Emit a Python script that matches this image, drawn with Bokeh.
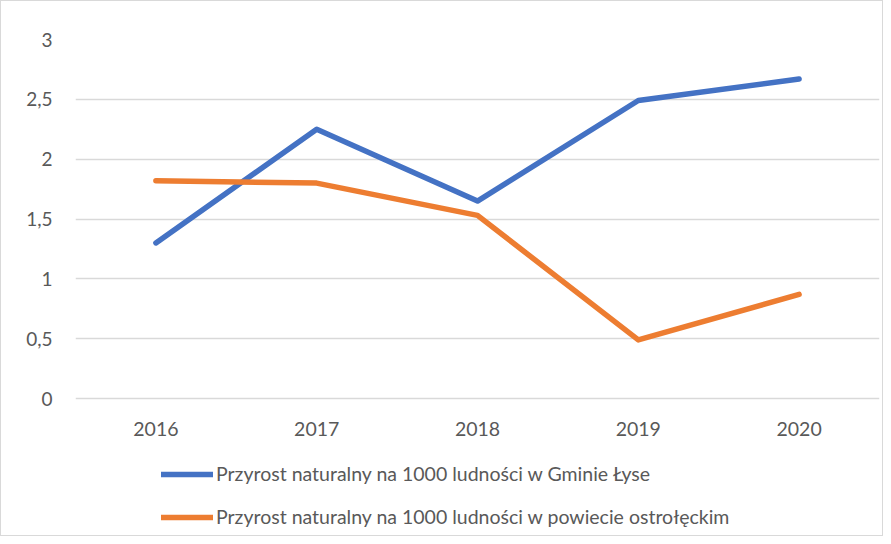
from bokeh.plotting import figure
from bokeh.models import Range1d, Legend, LegendItem, FixedTicker
from bokeh.core.properties import value
from bokeh.embed import file_html
from bokeh.resources import INLINE

years = [2016, 2017, 2018, 2019, 2020]
year_labels = ["2016", "2017", "2018", "2019", "2020"]
gmina = [1.30, 2.25, 1.65, 2.49, 2.67]
powiat = [1.82, 1.80, 1.53, 0.49, 0.87]
y_ticks = [0, 0.5, 1, 1.5, 2, 2.5, 3]
y_labels = ["0", "0,5", "1", "1,5", "2", "2,5", "3"]
series_names = ["Przyrost naturalny na 1000 ludności w Gminie Łyse",
                "Przyrost naturalny na 1000 ludności w powiecie ostrołęckim"]

FONT = "Lato"
TXT = "#595959"
W, H = 883, 536
TOP, LEFT, RIGHT = 38, 74, 5
ZERO_Y = 397  # pixel of y=0
px_per_unit = (ZERO_Y - TOP) / 3.0
y_min = -(H - ZERO_Y) / px_per_unit

p = figure(width=W, height=H, output_backend="svg", toolbar_location=None,
           x_range=Range1d(2015.5, 2020.5), y_range=Range1d(y_min, 3),
           min_border_left=LEFT, min_border_right=RIGHT, min_border_top=TOP, min_border_bottom=0)
p.outline_line_color = None
p.styles = {"border": "1px solid #d9d9d9"}
p.xgrid.grid_line_color = None
p.ygrid.grid_line_color = "#d9d9d9"
p.ygrid.grid_line_width = 1.5
p.xaxis.visible = False

p.yaxis.ticker = FixedTicker(ticks=y_ticks)
p.yaxis.major_label_overrides = {t: l for t, l in zip(y_ticks, y_labels)}
ax = p.yaxis[0]
ax.axis_line_color = None
ax.major_tick_line_color = None
ax.minor_tick_line_color = None
ax.major_label_text_font = FONT
ax.major_label_text_font_size = "19px"
ax.major_label_text_color = TXT
ax.major_label_standoff = 17

p.text(x=years, y=[0] * len(years), text=year_labels, text_align="center",
       text_baseline="middle", y_offset=30, text_font=value(FONT),
       text_font_size="19.5px", text_color=TXT)

r1 = p.line(years, gmina, line_color="#4472C4", line_width=5.5, line_cap="round", line_join="round")
r2 = p.line(years, powiat, line_color="#ED7D31", line_width=5.5, line_cap="round", line_join="round")

legend = Legend(items=[LegendItem(label=series_names[0], renderers=[r1]),
                       LegendItem(label=series_names[1], renderers=[r2])],
                orientation="vertical", location=(86, 9),
                glyph_width=52, glyph_height=20, label_standoff=3, spacing=20,
                label_text_font=FONT, label_text_font_size="19.5px", label_text_color=TXT,
                border_line_color=None, background_fill_alpha=0, padding=0, margin=0)
p.add_layout(legend, "center")

open("out.html", "w").write(file_html(p, INLINE))
